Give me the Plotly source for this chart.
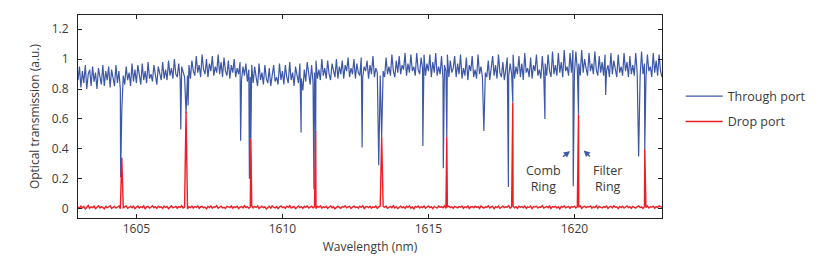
import plotly.graph_objects as go

# ---------------- data ----------------
wl_start = 1603.0
wl_step = 0.05

# Through port baseline (fringing), one row per nm, 0.05 nm sampling
through_base = [
    0.86,0.95,0.81,0.92,0.84,0.96,0.80,0.90,0.93,0.82,0.95,0.85,0.91,0.80,0.94,0.87,0.83,0.96,0.82,0.92,
    0.86,0.95,0.81,0.93,0.88,0.82,0.96,0.84,0.92,0.80,0.94,0.89,0.83,0.95,0.86,0.91,0.82,0.97,0.85,0.93,
    0.84,0.96,0.88,0.83,0.97,0.86,0.92,0.84,0.98,0.87,0.90,0.85,0.96,0.88,0.83,0.95,0.90,0.86,0.98,0.87,
    0.93,0.86,0.99,0.89,0.94,0.87,1.00,0.90,0.88,0.97,0.86,0.95,0.91,0.88,1.01,0.89,0.96,0.87,0.99,0.92,
    0.89,1.02,0.91,0.96,0.88,1.03,0.93,0.90,1.00,0.88,0.97,0.92,1.02,0.89,0.95,0.91,1.03,0.90,0.98,0.88,
    1.01,0.92,0.89,0.99,0.87,0.96,0.91,1.00,0.88,0.94,0.90,0.98,0.86,0.95,0.89,0.97,0.85,0.93,0.88,0.96,
    0.84,0.95,0.88,0.82,0.97,0.86,0.91,0.83,0.96,0.87,0.84,0.94,0.82,0.90,0.96,0.85,0.88,0.83,0.97,0.86,
    0.92,0.83,0.96,0.88,0.84,0.98,0.86,0.91,0.82,0.95,0.89,0.84,0.97,0.87,0.79,0.93,0.85,0.98,0.88,0.83,
    0.96,0.84,0.91,0.99,0.87,0.93,0.86,1.00,0.89,0.94,0.87,0.99,0.90,0.86,0.97,0.91,0.88,1.00,0.87,0.95,
    0.90,0.99,0.87,0.96,0.92,1.01,0.88,0.94,0.90,1.00,0.87,0.97,0.91,0.89,1.01,0.88,0.95,0.92,0.99,0.87,
    0.96,0.90,1.02,0.88,0.94,0.91,1.03,0.89,0.97,0.92,0.88,1.01,0.90,0.95,0.89,1.03,0.92,0.88,0.99,0.91,
    1.02,0.90,0.96,0.93,1.04,0.89,0.97,0.91,1.03,0.92,0.95,0.89,1.04,0.93,0.90,1.01,0.94,1.03,0.89,0.97,
    0.92,1.03,0.88,0.98,0.91,1.04,0.89,0.95,0.90,1.02,0.87,0.96,0.92,1.03,0.88,0.99,0.91,0.94,1.02,0.88,
    0.97,0.90,1.03,0.87,0.94,0.89,1.01,0.86,0.96,0.92,1.02,0.88,0.93,0.87,1.03,0.90,0.95,0.88,1.01,0.91,
    0.88,0.99,0.86,0.94,1.02,0.89,0.96,0.87,1.03,0.91,0.88,0.98,0.86,0.93,1.01,0.89,0.97,0.90,1.03,0.87,
    0.95,0.90,1.02,0.88,0.97,0.86,1.04,0.91,0.94,0.88,1.01,0.87,0.96,0.92,1.03,0.89,0.93,0.87,1.02,0.90,
    0.97,0.89,1.03,0.92,0.88,1.05,0.90,0.96,0.89,1.04,0.91,0.98,0.88,1.06,0.92,0.95,0.89,1.04,0.91,1.06,
    0.90,1.05,0.93,0.97,0.89,1.06,0.91,1.00,0.94,0.89,1.04,0.92,0.97,0.90,1.05,0.93,0.89,1.02,0.91,0.98,
    0.89,1.03,0.92,0.96,0.88,1.04,0.90,0.99,0.93,0.88,1.03,0.91,0.95,0.89,1.04,0.92,0.98,0.88,1.02,0.90,
    0.96,0.89,1.04,0.91,0.94,0.88,1.05,0.90,0.97,0.87,1.03,0.92,0.95,0.88,1.04,0.91,0.99,0.89,1.03,0.92,
    0.88,
]

# Through port resonance dips (wavelength nm, minimum transmission)
dip_wavelength = [1604.46, 1604.50, 1606.52, 1606.70, 1606.77, 1608.57, 1608.87, 1608.92,
                  1610.64, 1611.08, 1611.14, 1612.73, 1613.30, 1613.40, 1614.81, 1615.51,
                  1615.63, 1616.90, 1617.74, 1617.89, 1618.99, 1619.96, 1620.14, 1621.07,
                  1622.20, 1622.41]
dip_depth = [0.21, 0.66, 0.53, 0.64, 0.69, 0.455, 0.20, 0.47,
             0.51, 0.13, 0.51, 0.41, 0.29, 0.48, 0.42, 0.27,
             0.48, 0.52, 0.145, 0.71, 0.60, 0.15, 0.63, 0.76,
             0.35, 0.40]

# Drop port noise floor, 0.05 nm sampling
drop_base = [
    0.012,0.004,0.018,0.007,0.015,-0.002,0.010,0.021,0.003,0.013,0.008,0.017,0.001,0.011,0.019,0.005,0.014,0.009,-0.001,0.016,
    0.006,0.013,0.020,0.002,0.011,0.016,0.004,0.009,0.018,0.000,0.014,0.007,0.012,0.019,0.003,0.010,0.015,0.006,0.017,0.001,
    0.011,0.018,0.005,0.013,0.008,0.020,-0.002,0.012,0.016,0.004,0.010,0.019,0.007,0.014,0.002,0.017,0.009,0.013,0.003,0.018,
    0.008,0.015,0.001,0.012,0.019,0.006,0.010,0.016,0.003,0.014,0.009,0.020,0.005,0.011,0.017,0.000,0.013,0.007,0.018,0.004,
    0.014,0.009,0.019,0.002,0.012,0.016,0.006,0.011,-0.001,0.015,0.008,0.018,0.004,0.013,0.010,0.020,0.003,0.012,0.017,0.006,
    0.010,0.002,0.016,0.012,0.007,0.019,0.004,0.013,0.009,0.017,0.001,0.011,0.015,0.006,0.020,0.008,0.014,0.003,0.012,0.018,
    0.005,0.015,0.009,0.019,0.002,0.012,0.017,0.007,0.013,-0.002,0.010,0.016,0.004,0.018,0.011,0.006,0.014,0.001,0.012,0.019,
    0.008,0.013,0.003,0.017,0.010,0.020,0.005,0.012,0.015,0.000,0.011,0.018,0.007,0.014,0.002,0.016,0.009,0.019,0.004,0.013,
    0.017,0.006,0.012,0.001,0.015,0.010,0.019,0.004,0.013,0.008,0.016,0.002,0.011,0.018,0.006,0.014,-0.001,0.012,0.017,0.009,
    0.003,0.014,0.010,0.019,0.006,0.012,0.016,0.002,0.011,0.018,0.007,0.013,0.004,0.017,0.009,0.020,0.001,0.012,0.015,0.008,
    0.016,0.004,0.013,0.009,0.019,0.002,0.012,0.017,0.006,0.014,0.010,0.018,0.003,0.011,0.015,0.007,0.020,0.005,0.013,0.001,
    0.011,0.017,0.006,0.014,0.002,0.016,0.009,0.019,0.004,0.012,-0.002,0.015,0.010,0.018,0.005,0.013,0.008,0.017,0.003,0.012,
    0.019,0.007,0.013,0.001,0.016,0.010,0.004,0.018,0.009,0.014,0.006,0.020,0.002,0.012,0.017,0.008,0.013,0.004,0.015,0.011,
    0.005,0.016,0.010,0.018,0.003,0.013,0.008,0.019,0.001,0.012,0.015,0.006,0.017,0.009,0.014,0.002,0.018,0.011,0.004,0.013,
    0.009,0.019,0.005,0.012,0.016,0.000,0.014,0.008,0.018,0.003,0.011,0.017,0.007,0.013,0.010,0.020,0.004,0.012,0.016,0.006,
    0.013,0.002,0.017,0.010,0.015,0.006,0.019,0.003,0.012,0.008,0.018,0.001,0.014,0.011,0.016,0.005,0.013,0.009,0.020,0.004,
    0.012,0.016,0.007,0.018,0.002,0.014,0.010,0.017,0.005,0.013,-0.001,0.015,0.009,0.019,0.006,0.012,0.016,0.003,0.014,0.010,
    0.017,0.005,0.013,0.009,0.019,0.002,0.012,0.016,0.007,0.014,0.011,0.018,0.004,0.013,0.008,0.020,0.003,0.015,0.010,0.006,
    0.014,0.009,0.018,0.002,0.012,0.016,0.006,0.019,0.010,0.013,0.001,0.015,0.008,0.017,0.005,0.012,0.018,0.007,0.014,0.003,
    0.016,0.010,0.004,0.013,0.019,0.007,0.012,0.002,0.015,0.009,0.018,0.005,0.013,0.011,0.017,0.003,0.014,0.008,0.019,0.012,
    0.009,
]

# Drop port resonance peaks (wavelength nm, peak transmission)
peak_wavelength = [1604.50, 1606.70, 1608.92, 1611.14, 1613.40, 1615.63, 1617.89, 1620.14, 1622.41]
peak_height = [0.34, 0.65, 0.47, 0.52, 0.48, 0.48, 0.71, 0.63, 0.40]

x_ticks = [1605, 1610, 1615, 1620]
y_ticks = [0, 0.2, 0.4, 0.6, 0.8, 1.0, 1.2]
y_tick_labels = ["0", "0.2", "0.4", "0.6", "0.8", "1", "1.2"]


def merge(base, extra_x, extra_y):
    pts = {round(wl_start + i * wl_step, 3): v for i, v in enumerate(base)}
    for xv, yv in zip(extra_x, extra_y):
        pts[round(xv, 3)] = yv
    xs = sorted(pts)
    return xs, [pts[k] for k in xs]


thr_x, thr_y = merge(through_base, dip_wavelength, dip_depth)
drp_x, drp_y = merge(drop_base, peak_wavelength, peak_height)

BLUE = "#3d58a8"
RED = "#ec1f27"
TXT = "#3a3a3a"
FONT = "Open Sans"

fig = go.Figure()
fig.add_trace(go.Scatter(x=thr_x, y=thr_y, mode="lines", name="Through port",
                         legendgroup="a", line=dict(color=BLUE, width=1.2)))
fig.add_trace(go.Scatter(x=drp_x, y=drp_y, mode="lines", name="Drop port",
                         legendgroup="b", line=dict(color=RED, width=1.4)))

# annotations
fig.add_annotation(x=1618.95, y=0.20, text="Comb<br>Ring", showarrow=False,
                   font=dict(family=FONT, size=12.5, color=TXT), align="center")
fig.add_annotation(x=1621.15, y=0.20, text="Filter<br>Ring", showarrow=False,
                   font=dict(family=FONT, size=12.5, color=TXT), align="center")
fig.add_annotation(x=1619.85, y=0.385, ax=1619.56, ay=0.34, axref="x", ayref="y",
                   text="", showarrow=True, arrowhead=2, arrowsize=0.9,
                   arrowwidth=1.4, arrowcolor=BLUE)
fig.add_annotation(x=1620.32, y=0.39, ax=1620.58, ay=0.34, axref="x", ayref="y",
                   text="", showarrow=True, arrowhead=2, arrowsize=0.9,
                   arrowwidth=1.4, arrowcolor=BLUE)

axis_common = dict(showline=True, linecolor="#222", linewidth=1, mirror="ticks",
                   ticks="inside", ticklen=4, tickcolor="#222", showgrid=False,
                   zeroline=False, tickfont=dict(family=FONT, size=12, color=TXT))

fig.update_xaxes(range=[1603, 1623], tickvals=x_ticks,
                 title=dict(text="Wavelength (nm)", font=dict(family=FONT, size=12, color=TXT),
                            standoff=6),
                 **axis_common)
fig.update_yaxes(range=[-0.062, 1.295], tickvals=y_ticks, ticktext=y_tick_labels,
                 ticklabelstandoff=6,
                 title=dict(text="Optical transmission (a.u.)",
                            font=dict(family=FONT, size=12, color=TXT), standoff=9),
                 **axis_common)

# page body has an 8 px default margin, so the figure is 8 px smaller
fig.update_layout(
    width=822, height=259,
    margin=dict(l=70, r=168, t=7, b=49),
    plot_bgcolor="white", paper_bgcolor="white",
    font=dict(family=FONT, size=12, color=TXT),
    legend=dict(x=1.032, xanchor="left", y=0.672, yanchor="top",
                font=dict(family=FONT, size=12.5, color=TXT),
                itemwidth=37,
                tracegroupgap=6, bgcolor="rgba(0,0,0,0)"),
)

fig.write_html("out.html")
